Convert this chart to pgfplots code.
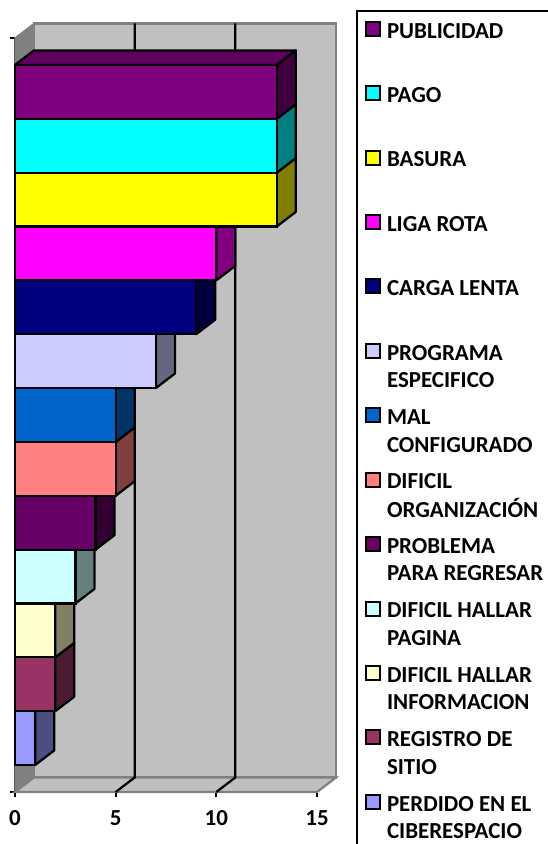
\documentclass[border=0pt]{standalone}
\usepackage{fontspec}
\setmainfont{Carlito}
\usepackage{xcolor}
\usepackage{pgfplots}
\pgfplotsset{compat=1.18}

\definecolor{wall}{HTML}{C0C0C0}
\definecolor{wallsh}{HTML}{808080}
\definecolor{cPer}{HTML}{9999FF}\definecolor{sPer}{HTML}{4D4D80}
\definecolor{cReg}{HTML}{993366}\definecolor{sReg}{HTML}{4D1A33}
\definecolor{cInf}{HTML}{FFFFCC}\definecolor{sInf}{HTML}{808066}
\definecolor{cPag}{HTML}{CCFFFF}\definecolor{sPag}{HTML}{668080}
\definecolor{cReg2}{HTML}{660066}\definecolor{sReg2}{HTML}{330033}
\definecolor{cOrg}{HTML}{FF8080}\definecolor{sOrg}{HTML}{804040}
\definecolor{cMal}{HTML}{0066CC}\definecolor{sMal}{HTML}{003366}
\definecolor{cPro}{HTML}{CCCCFF}\definecolor{sPro}{HTML}{666680}
\definecolor{cCar}{HTML}{000080}\definecolor{sCar}{HTML}{000040}
\definecolor{cLig}{HTML}{FF00FF}\definecolor{sLig}{HTML}{800080}
\definecolor{cBas}{HTML}{FFFF00}\definecolor{sBas}{HTML}{808000}
\definecolor{cPgo}{HTML}{00FFFF}\definecolor{sPgo}{HTML}{008080}
\definecolor{cPub}{HTML}{800080}\definecolor{sPub}{HTML}{400040}\definecolor{tPub}{HTML}{600060}

% legend cell: two lines at most, spacing comes from row sep
\newcommand{\ent}[1]{\parbox[t]{150pt}{\strut #1}}

\pgfplotsset{
  front/.style={xbar, bar width=1, draw=black, line width=1.7pt, fill=#1,
    legend image code/.code={\path[draw=black,fill=#1,line width=1.5pt] (0.75pt,-4.75pt) rectangle (11.25pt,5.75pt);}},
  side/.style={draw=black, line width=1.7pt, line join=round, fill=#1, forget plot},
}

\begin{document}
\begin{tikzpicture}
\path[use as bounding box] (0,0) rectangle (411pt,633pt);
\begin{axis}[
    at={(11.25pt,39pt)}, anchor=south west,
    scale only axis,
    width=226.5pt, height=565.5pt,
    xmin=0, xmax=15, ymin=0, ymax=14,
    clip=false,
    axis x line*=bottom, axis y line*=left,
    axis line style={line width=1.7pt, black, -},
    xtick={0,5,10,15},
    ytick={0,14}, yticklabels={},
    tick style={line width=1.7pt, black},
    tick align=outside, major tick length=4pt,
    font=\bfseries\fontsize{17.2}{20.6}\selectfont,
    /pgf/number format/assume math mode=true,
    xticklabel style={yshift=-6.5pt},
    reverse legend,
    legend cell align=left,
    legend style={at={(1.159,1.0255)}, anchor=north west, draw=none, fill=none,
      inner sep=0pt, outer sep=0pt,
      nodes={inner sep=0pt, outer sep=0pt},
      /tikz/every odd column/.style={column sep=4.5pt},
      /tikz/row sep=32.4pt,
      font=\bfseries\fontsize{17.2}{20.6}\selectfont},
]
% walls and floor
\addplot[fill=wallsh, draw=wallsh, line width=1pt, forget plot] coordinates {(0,0) (0.944,0.27) (0.944,14.27) (0,14)} -- cycle;
\addplot[fill=wall, draw=wallsh, line width=1.7pt, forget plot] coordinates {(0.944,0.27) (15.944,0.27) (15.944,14.27) (0.944,14.27)} -- cycle;
\addplot[fill=wall, draw=wallsh, line width=1.7pt, forget plot] coordinates {(0,0) (15,0) (15.944,0.27) (0.944,0.27)} -- cycle;
% grid on the back wall, with its run over the floor
\addplot[black, line width=1.7pt, forget plot] coordinates {(5,0) (5.944,0.27) (5.944,14.27)};
\addplot[black, line width=1.7pt, forget plot] coordinates {(10,0) (10.944,0.27) (10.944,14.27)};
% bars, bottom one first
\addplot[side=sPer] coordinates {(1,0.5) (1.944,0.77) (1.944,1.77) (1,1.5)} -- cycle;
\addplot[front=cPer] coordinates {(1,1)};
\addlegendentry{\ent{PERDIDO EN EL\\CIBERESPACIO}}
\addplot[side=sReg] coordinates {(2,1.5) (2.944,1.77) (2.944,2.77) (2,2.5)} -- cycle;
\addplot[front=cReg] coordinates {(2,2)};
\addlegendentry{\ent{REGISTRO DE\\SITIO}}
\addplot[side=sInf] coordinates {(2,2.5) (2.944,2.77) (2.944,3.77) (2,3.5)} -- cycle;
\addplot[front=cInf] coordinates {(2,3)};
\addlegendentry{\ent{DIFICIL HALLAR\\INFORMACION}}
\addplot[side=sPag] coordinates {(3,3.5) (3.944,3.77) (3.944,4.77) (3,4.5)} -- cycle;
\addplot[front=cPag] coordinates {(3,4)};
\addlegendentry{\ent{DIFICIL HALLAR\\PAGINA}}
\addplot[side=sReg2] coordinates {(4,4.5) (4.944,4.77) (4.944,5.77) (4,5.5)} -- cycle;
\addplot[front=cReg2] coordinates {(4,5)};
\addlegendentry{\ent{PROBLEMA\\PARA REGRESAR}}
\addplot[side=sOrg] coordinates {(5,5.5) (5.944,5.77) (5.944,6.77) (5,6.5)} -- cycle;
\addplot[front=cOrg] coordinates {(5,6)};
\addlegendentry{\ent{DIFICIL\\ORGANIZACIÓN}}
\addplot[side=sMal] coordinates {(5,6.5) (5.944,6.77) (5.944,7.77) (5,7.5)} -- cycle;
\addplot[front=cMal] coordinates {(5,7)};
\addlegendentry{\ent{MAL\\CONFIGURADO}}
\addplot[side=sPro] coordinates {(7,7.5) (7.944,7.77) (7.944,8.77) (7,8.5)} -- cycle;
\addplot[front=cPro] coordinates {(7,8)};
\addlegendentry{\ent{PROGRAMA\\ESPECIFICO}}
\addplot[side=sCar] coordinates {(9,8.5) (9.944,8.77) (9.944,9.77) (9,9.5)} -- cycle;
\addplot[front=cCar] coordinates {(9,9)};
\addlegendentry{\ent{CARGA LENTA}}
\addplot[side=sLig] coordinates {(10,9.5) (10.944,9.77) (10.944,10.77) (10,10.5)} -- cycle;
\addplot[front=cLig] coordinates {(10,10)};
\addlegendentry{\ent{LIGA ROTA}}
\addplot[side=sBas] coordinates {(13,10.5) (13.944,10.77) (13.944,11.77) (13,11.5)} -- cycle;
\addplot[front=cBas] coordinates {(13,11)};
\addlegendentry{\ent{BASURA}}
\addplot[side=sPgo] coordinates {(13,11.5) (13.944,11.77) (13.944,12.77) (13,12.5)} -- cycle;
\addplot[front=cPgo] coordinates {(13,12)};
\addlegendentry{\ent{PAGO}}
\addplot[side=sPub] coordinates {(13,12.5) (13.944,12.77) (13.944,13.77) (13,13.5)} -- cycle;
\addplot[side=tPub] coordinates {(0,13.5) (13,13.5) (13.944,13.77) (0.944,13.77)} -- cycle;
\addplot[front=cPub] coordinates {(13,13)};
\addlegendentry{\ent{PUBLICIDAD}}
% legend frame, it runs off the picture at right and bottom
\addplot[black, line width=1.7pt, forget plot] coordinates {(16.987,-0.965) (16.987,14.501) (26.47,14.501)};
\end{axis}
\end{tikzpicture}
\end{document}
